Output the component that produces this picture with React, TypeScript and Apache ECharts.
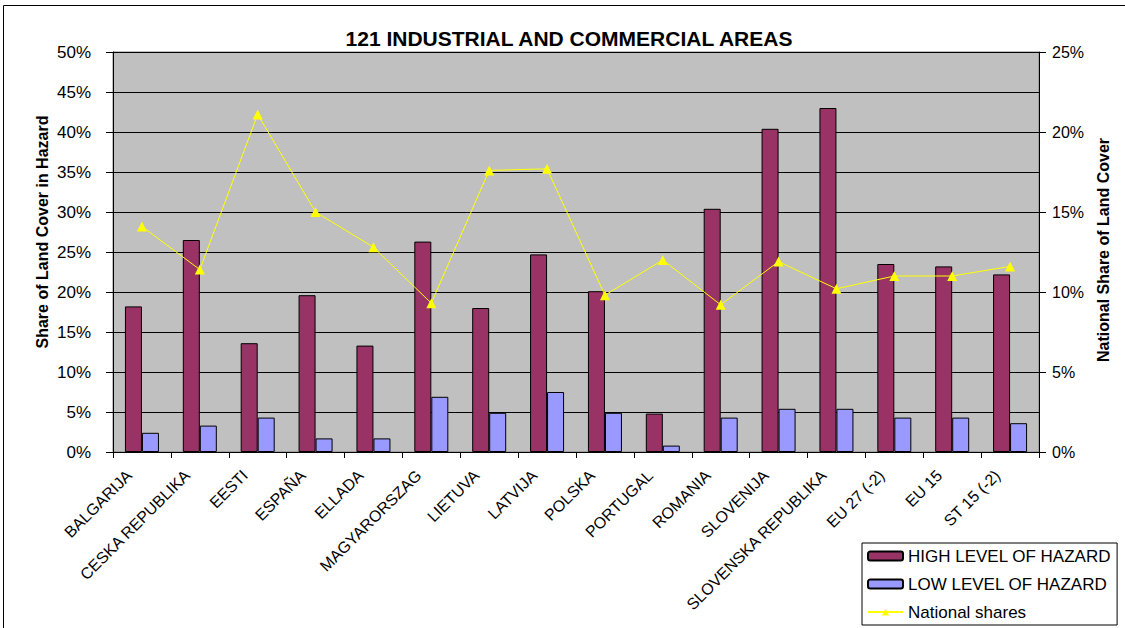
import React, { useEffect, useRef } from "react";
import * as echarts from "echarts";

const categories = [
  "BALGARIJA", "CESKA REPUBLIKA", "EESTI", "ESPAÑA", "ELLADA", "MAGYARORSZAG",
  "LIETUVA", "LATVIJA", "POLSKA", "PORTUGAL", "ROMANIA", "SLOVENIJA",
  "SLOVENSKA REPUBLIKA", "EU 27 (-2)", "EU 15", "ST 15 (-2)",
];
const highHazard = [18.2, 26.5, 13.6, 19.6, 13.3, 26.3, 18.0, 24.7, 20.1, 4.8, 30.4, 40.4, 43.0, 23.5, 23.2, 22.2];
const lowHazard = [2.4, 3.3, 4.3, 1.7, 1.7, 6.9, 4.9, 7.5, 4.9, 0.8, 4.3, 5.4, 5.4, 4.3, 4.3, 3.6];
const nationalShares = [14.1, 11.4, 21.1, 15.0, 12.8, 9.3, 17.6, 17.7, 9.8, 12.0, 9.2, 11.9, 10.2, 11.0, 11.0, 11.6];
const leftTicks = { min: 0, max: 50, interval: 5 };
const rightTicks = { min: 0, max: 25, interval: 5 };

const FONT = "Liberation Sans, Arial, sans-serif";

export default function App() {
  const ref = useRef<HTMLDivElement>(null);
  useEffect(() => {
    if (!ref.current) return;
    const chart = echarts.init(ref.current, undefined, { renderer: "svg" });
    chart.setOption({
      animation: false,
      backgroundColor: "#ffffff",
      textStyle: { fontFamily: FONT },
      grid: {
        left: 113, right: 86, top: 52, bottom: 176,
        show: true, backgroundColor: "#C0C0C0", borderColor: "#808080", borderWidth: 1,
      },
      legend: {
        orient: "vertical",
        left: 862, top: 543,
        width: 251,
        backgroundColor: "#ffffff",
        borderColor: "#000000", borderWidth: 1,
        padding: [4, 6, 4, 5],
        itemGap: 10,
        itemWidth: 35, itemHeight: 9,
        textStyle: { fontFamily: FONT, fontSize: 17, lineHeight: 18, color: "#000", padding: [0, 0, 0, 0] },
        data: [
          { name: "HIGH LEVEL OF HAZARD" },
          { name: "LOW LEVEL OF HAZARD" },
          { name: "National shares" },
        ],
      },
      xAxis: {
        type: "category",
        data: categories,
        axisLine: { lineStyle: { color: "#000", width: 1 } },
        axisTick: { show: true, length: 6, lineStyle: { color: "#000" } },
        axisLabel: {
          interval: 0, rotate: 45, margin: 8,
          fontFamily: FONT, fontSize: 16, color: "#000",
          padding: [0, 18, 0, 0],
        },
      },
      yAxis: [
        {
          type: "value",
          min: leftTicks.min, max: leftTicks.max, interval: leftTicks.interval,
          axisLine: { show: true, lineStyle: { color: "#000" } },
          axisTick: { show: true, length: 7, lineStyle: { color: "#000" } },
          axisLabel: { formatter: "{value}%", fontFamily: FONT, fontSize: 17, color: "#000", margin: 22 },
          splitLine: { show: true, lineStyle: { color: "#000", width: 1 } },
        },
        {
          type: "value",
          min: rightTicks.min, max: rightTicks.max, interval: rightTicks.interval,
          position: "right",
          axisLine: { show: true, lineStyle: { color: "#000" } },
          axisTick: { show: true, length: 7, lineStyle: { color: "#000" } },
          axisLabel: { formatter: "{value}%", fontFamily: FONT, fontSize: 16, color: "#000", margin: 13 },
          splitLine: { show: false },
        },
      ],
      series: [
        {
          name: "HIGH LEVEL OF HAZARD",
          type: "bar",
          data: highHazard,
          barWidth: 17,
          barGap: "0%",
          itemStyle: { color: "#993366", borderColor: "#000", borderWidth: 1 },
        },
        {
          name: "LOW LEVEL OF HAZARD",
          type: "bar",
          data: lowHazard,
          barWidth: 17,
          barGap: "0%",
          itemStyle: { color: "#9999FF", borderColor: "#000", borderWidth: 1 },
        },
        {
          name: "National shares",
          type: "line",
          yAxisIndex: 1,
          data: nationalShares,
          symbol: "triangle",
          symbolSize: 10,
          lineStyle: { color: "#FFFF00", width: 1 },
          itemStyle: { color: "#FFFF00" },
        },
      ],
      graphic: [
        {
          type: "rect",
          shape: { x: 3.5, y: 5.5, width: 1140, height: 640 },
          style: { fill: "none", stroke: "#000", lineWidth: 1 },
          z: 100,
        },
        {
          type: "text",
          x: 569, y: 38,
          style: {
            text: "121 INDUSTRIAL AND COMMERCIAL AREAS",
            font: `bold 21px ${FONT}`,
            fill: "#000",
            align: "center", verticalAlign: "middle",
          },
        },
        {
          type: "text",
          x: 42, y: 232,
          rotation: Math.PI / 2,
          style: {
            text: "Share of Land Cover in Hazard",
            font: `bold 16px ${FONT}`,
            fill: "#000",
            align: "center", verticalAlign: "middle",
          },
        },
        {
          type: "text",
          x: 1103, y: 250,
          rotation: Math.PI / 2,
          style: {
            text: "National Share of Land Cover",
            font: `bold 16px ${FONT}`,
            fill: "#000",
            align: "center", verticalAlign: "middle",
          },
        },
      ],
    });
    return () => chart.dispose();
  }, []);
  return (
    <div
      ref={ref}
      style={{ position: "fixed", left: 0, top: 0, width: 1125, height: 628 }}
    />
  );
}
